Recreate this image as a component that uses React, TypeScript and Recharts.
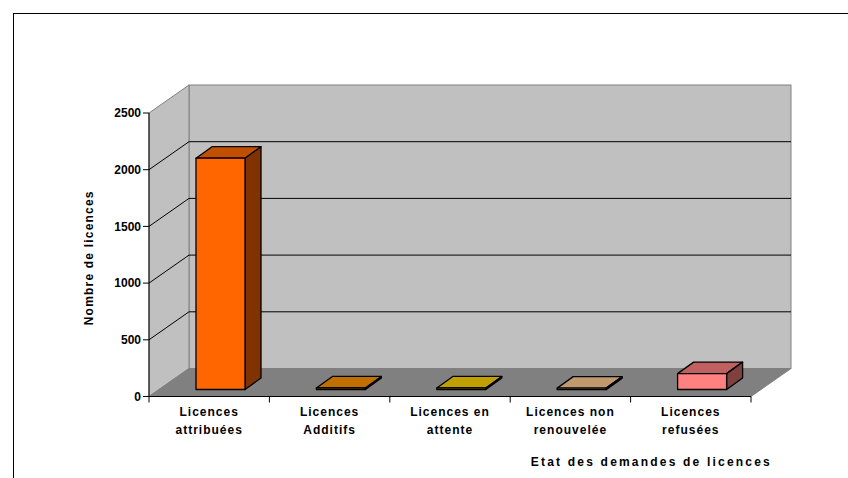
import { BarChart, Bar, XAxis, YAxis, CartesianGrid, ReferenceArea, Label } from 'recharts';

const categories = [
    'Licences attribuées',
    'Licences Additifs',
    'Licences en attente',
    'Licences non renouvelée',
    'Licences refusées',
];
const tickLines = [
    ['Licences', 'attribuées'],
    ['Licences', 'Additifs'],
    ['Licences en', 'attente'],
    ['Licences non', 'renouvelée'],
    ['Licences', 'refusées'],
];
const values = [2040, 14, 14, 12, 140];
const yTicks = [0, 500, 1000, 1500, 2000, 2500];

const FRONT = ['#FF6600', '#CC7A00', '#CCA300', '#CC9E74', '#FF8080'];
const TOP = ['#C04F00', '#C07000', '#C0A000', '#C09A6E', '#C06060'];
const SIDE = ['#803300', '#805000', '#806A00', '#806650', '#804040'];

const data = categories.map((name, i) => ({ name, value: values[i] }));

// layout
const W = 848;
const H = 478;
const PLOT_LEFT = 149;
const PLOT_RIGHT = 751;
const PLOT_TOP = 113;
const PLOT_BOTTOM = 396.5;
const DX = 40; // depth of the 3D box
const DY = 28;
const BAR_OFF_X = 11; // bar front face pushed back into the box
const BAR_OFF_Y = 7;
const BAR_DX = 16;
const BAR_DY = 11.5;
const BAND = (PLOT_RIGHT - PLOT_LEFT) / categories.length;
const FONT = 'Arial, "Liberation Sans", sans-serif';

const Walls = (p: any) => {
    const { x, y, width, height } = p;
    const b = y + height;
    return (
        <g>
            <rect x={x + DX} y={y - DY} width={width} height={height} fill="#C0C0C0" stroke="#808080" />
            <polygon
                points={`${x},${y} ${x + DX},${y - DY} ${x + DX},${b - DY} ${x},${b}`}
                fill="#C0C0C0"
                stroke="#808080"
            />
            <polygon
                points={`${x},${b} ${x + DX},${b - DY} ${x + width + DX},${b - DY} ${x + width},${b}`}
                fill="#808080"
                stroke="#808080"
            />
        </g>
    );
};

const GridLine = (p: any) => {
    const { x1, x2, y1 } = p;
    if (Math.abs(y1 - PLOT_TOP) < 1 || Math.abs(y1 - PLOT_BOTTOM) < 1) return <g key={p.key} />;
    return (
        <g key={p.key}>
            <line x1={x1} y1={y1} x2={x1 + DX} y2={y1 - DY} stroke="#000" />
            <line x1={x1 + DX} y1={y1 - DY} x2={x2 + DX} y2={y1 - DY} stroke="#000" />
        </g>
    );
};

const Box = (p: any) => {
    const { x, y, width, height, index } = p;
    const fx = x + BAR_OFF_X;
    const fy = y - BAR_OFF_Y;
    const h = Math.max(height, 1.5);
    const r = fx + width;
    return (
        <g stroke="#000" strokeWidth={1.3} strokeLinejoin="round">
            <polygon
                points={`${fx},${fy} ${fx + BAR_DX},${fy - BAR_DY} ${r + BAR_DX},${fy - BAR_DY} ${r},${fy}`}
                fill={TOP[index]}
            />
            <polygon
                points={`${r},${fy} ${r + BAR_DX},${fy - BAR_DY} ${r + BAR_DX},${fy + h - BAR_DY} ${r},${fy + h}`}
                fill={SIDE[index]}
            />
            <rect x={fx} y={fy} width={width} height={h} fill={FRONT[index]} />
        </g>
    );
};

const CatTick = (p: any) => {
    const { x, index } = p;
    const lines = tickLines[index] || [];
    const left = x - BAND / 2;
    return (
        <g>
            <line x1={left} y1={PLOT_BOTTOM} x2={left} y2={PLOT_BOTTOM + 6} stroke="#000" />
            {index === categories.length - 1 && (
                <line x1={left + BAND} y1={PLOT_BOTTOM} x2={left + BAND} y2={PLOT_BOTTOM + 6} stroke="#000" />
            )}
            {lines.map((t, i) => (
                <text
                    key={i}
                    x={x}
                    y={PLOT_BOTTOM + 19 + i * 18.5}
                    textAnchor="middle"
                    fontFamily={FONT}
                    fontWeight="bold"
                    fontSize={12}
                    letterSpacing={1}
                    fill="#000">
                    {t}
                </text>
            ))}
        </g>
    );
};

const App = () => (
    <div style={{ position: 'absolute', left: 0, top: 0, width: W, height: H, background: '#fff' }}>
        <div
            style={{
                position: 'absolute',
                left: 13,
                top: 13,
                width: W - 13,
                height: H - 13,
                borderTop: '1px solid #000',
                borderLeft: '1px solid #000',
                boxSizing: 'border-box',
            }}
        />
        <div style={{ position: 'absolute', left: 0, top: 0 }}>
            <BarChart
                width={W}
                height={H}
                data={data}
                margin={{ top: PLOT_TOP, right: W - PLOT_RIGHT, bottom: H - PLOT_BOTTOM - 60, left: PLOT_LEFT - 60 }}>
                <ReferenceArea y1={0} y2={2500} shape={Walls} zIndex={-200} ifOverflow="visible" />
                <CartesianGrid vertical={false} horizontal={GridLine} />
                <XAxis
                    dataKey="name"
                    height={60}
                    tickLine={false}
                    axisLine={{ stroke: '#000' }}
                    tick={CatTick}
                    interval={0}>
                    <Label
                        content={(lp: any) => {
                            const vb = lp.viewBox || {};
                            return (
                                <text
                                    x={vb.x + vb.width + 21}
                                    y={PLOT_BOTTOM + 69}
                                    textAnchor="end"
                                    fontFamily={FONT}
                                    fontWeight="bold"
                                    fontSize={12}
                                    letterSpacing={2.2}
                                    fill="#000">
                                    Etat des demandes de licences
                                </text>
                            );
                        }}
                    />
                </XAxis>
                <YAxis
                    width={60}
                    domain={[0, 2500]}
                    ticks={yTicks}
                    interval={0}
                    axisLine={{ stroke: '#000' }}
                    tickLine={{ stroke: '#000' }}
                    tickSize={6}
                    tickMargin={2}
                    tick={{ fill: '#000', fontFamily: FONT, fontWeight: 'bold', fontSize: 12 }}>
                    <Label
                        content={(lp: any) => {
                            const vb = lp.viewBox || {};
                            const cx = vb.x;
                            const cy = (PLOT_TOP + PLOT_BOTTOM) / 2 + 3;
                            return (
                                <text
                                    x={cx}
                                    y={cy}
                                    transform={`rotate(-90 ${cx} ${cy})`}
                                    textAnchor="middle"
                                    dominantBaseline="central"
                                    fontFamily={FONT}
                                    fontWeight="bold"
                                    fontSize={12}
                                    letterSpacing={1.2}
                                    fill="#000">
                                    Nombre de licences
                                </text>
                            );
                        }}
                    />
                </YAxis>
                <Bar dataKey="value" barSize={49} shape={Box} isAnimationActive={false} />
            </BarChart>
        </div>
    </div>
);

export default App;
